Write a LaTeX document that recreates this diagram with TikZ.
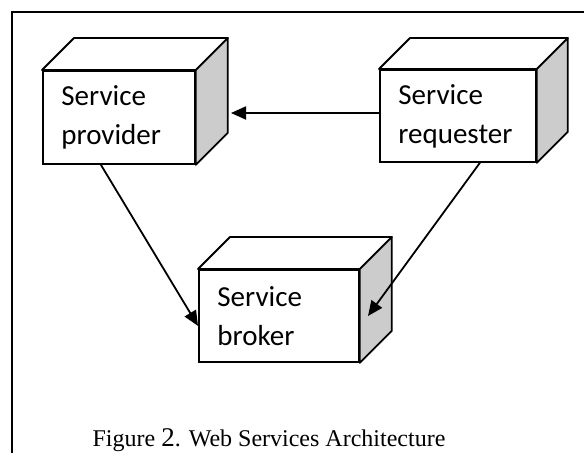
\documentclass[tikz,border=0pt]{standalone}
\usepackage{fontspec}
\setmainfont{Liberation Serif}
\newfontfamily\boxfont{Carlito}
\usetikzlibrary{arrows.meta,calc}
\definecolor{sidegray}{RGB}{204,204,204}
\tikzset{
  frontbox/.style={draw=black, line width=1.8pt, fill=white, anchor=north west,
    align=left, inner xsep=18.5pt, inner ysep=0pt, minimum height=92pt,
    font=\boxfont\fontsize{29}{39}\selectfont},
  depthline/.style={draw=black, line width=1.8pt, line join=round},
  conn/.style={draw=black, line width=1.8pt, -{Triangle[length=15pt,width=13pt]}},
  framel/.style={draw=black, line width=1.8pt},
}
\newcommand{\cubeside}[2]{%
  % #1 node name, #2 depth
  \filldraw[depthline, fill=white] (#1.north west) -- ++(#2,#2) -- ($(#1.north east)+(#2,#2)$) -- (#1.north east) -- cycle;
  \filldraw[depthline, fill=sidegray] (#1.north east) -- ++(#2,#2) -- ($(#1.south east)+(#2,#2)$) -- (#1.south east) -- cycle;
}
\begin{document}
\begin{tikzpicture}[x=1pt,y=-1pt]
\useasboundingbox (0,0) rectangle (584,453);
\draw[framel] (12,453) -- (12,12) -- (584,12);

\node[frontbox, text width=152pt-37pt, minimum height=93pt] (prov) at (42,70) {Service\\provider};
\cubeside{prov}{32pt}
\node[frontbox, text width=156pt-37pt] (req) at (379,69) {Service\\requester};
\cubeside{req}{31pt}
\node[frontbox, text width=160pt-37pt] (brok) at (198,269) {Service\\broker};
\cubeside{brok}{32pt}

\coordinate (t1) at (231,113);
\coordinate (t3) at (368,316);
\draw[conn] (req.west |- t1) -- (t1);
\draw[conn] ([xshift=-18pt]prov.south) -- ([yshift=-10pt]brok.west);
\draw[conn] ([xshift=22pt]req.south) -- (t3);

\node[anchor=base, font=\fontsize{24}{28}\selectfont, inner sep=0pt] (cap) at (269,446)
  {Figure {\fontsize{27}{28}\selectfont 2}. Web Services Architecture};
\end{tikzpicture}
\end{document}
